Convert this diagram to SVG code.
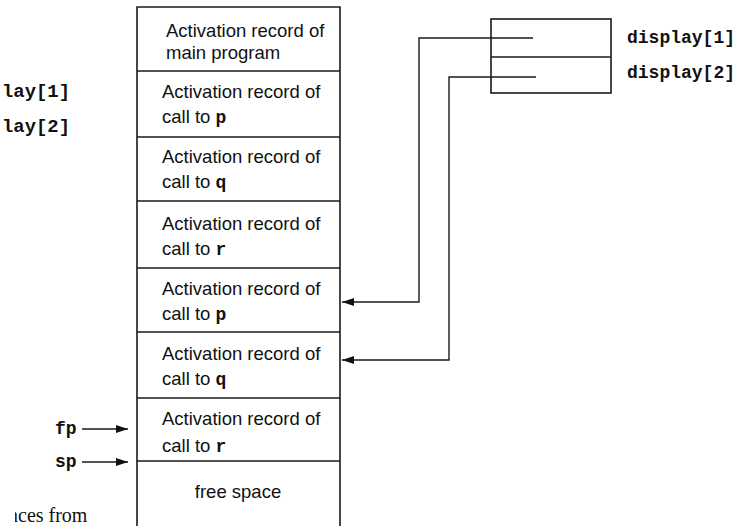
<svg xmlns="http://www.w3.org/2000/svg" width="737" height="526" viewBox="0 0 737 526">
  <defs>
    <marker id="arrow" viewBox="0 0 12 8" refX="12" refY="4" markerWidth="12" markerHeight="8" markerUnits="userSpaceOnUse" orient="auto">
      <path d="M0,0 L12,4 L0,8 Z" fill="#111"/>
    </marker>
    <clipPath id="leftClip">
      <rect x="15" y="490" width="200" height="36"/>
    </clipPath>
  </defs>
  <style>
    .box { fill: none; stroke: #1a1a1a; stroke-width: 1.6; }
    .line { fill: none; stroke: #1a1a1a; stroke-width: 1.4; }
    .txt { font-family: "Liberation Sans", Arial, sans-serif; font-size: 18.5px; fill: #111; }
    .mono { font-family: "Liberation Mono", "Courier New", monospace; font-weight: bold; font-size: 18px; fill: #111; }
    .serif { font-family: "Liberation Serif", "Times New Roman", serif; font-size: 20px; fill: #111; }
  </style>
  <rect width="737" height="526" fill="#fff"/>

  <!-- run-time stack: outer walls, open at the bottom -->
  <g id="stack">
    <path class="box" d="M137,526 V7 H340 V526"/>
  </g>

  <g id="ar-main">
    <line class="box" x1="137" y1="71" x2="340" y2="71"/>
    <text class="txt" x="166" y="37">Activation record of</text>
    <text class="txt" x="166" y="59">main program</text>
  </g>
  <g id="ar-p1">
    <line class="box" x1="137" y1="137" x2="340" y2="137"/>
    <text class="txt" x="162" y="98">Activation record of</text>
    <text class="txt" x="162" y="123">call to <tspan class="mono">p</tspan></text>
  </g>
  <g id="ar-q1">
    <line class="box" x1="137" y1="201" x2="340" y2="201"/>
    <text class="txt" x="162" y="163">Activation record of</text>
    <text class="txt" x="162" y="188">call to <tspan class="mono">q</tspan></text>
  </g>
  <g id="ar-r1">
    <line class="box" x1="137" y1="268" x2="340" y2="268"/>
    <text class="txt" x="162" y="230">Activation record of</text>
    <text class="txt" x="162" y="255">call to <tspan class="mono">r</tspan></text>
  </g>
  <g id="ar-p2">
    <line class="box" x1="137" y1="332" x2="340" y2="332"/>
    <text class="txt" x="162" y="295">Activation record of</text>
    <text class="txt" x="162" y="320">call to <tspan class="mono">p</tspan></text>
  </g>
  <g id="ar-q2">
    <line class="box" x1="137" y1="398" x2="340" y2="398"/>
    <text class="txt" x="162" y="360">Activation record of</text>
    <text class="txt" x="162" y="385">call to <tspan class="mono">q</tspan></text>
  </g>
  <g id="ar-r2">
    <line class="box" x1="137" y1="461" x2="340" y2="461"/>
    <text class="txt" x="162" y="425">Activation record of</text>
    <text class="txt" x="162" y="452">call to <tspan class="mono">r</tspan></text>
  </g>
  <g id="free-space">
    <text class="txt" x="238" y="498" text-anchor="middle">free space</text>
  </g>

  <!-- display array -->
  <g id="display">
    <rect class="box" x="491" y="19" width="120" height="74"/>
    <line class="box" x1="491" y1="57" x2="611" y2="57"/>
    <text class="mono" x="627" y="43" textLength="108" lengthAdjust="spacingAndGlyphs">display[1]</text>
    <text class="mono" x="627" y="78" textLength="108" lengthAdjust="spacingAndGlyphs">display[2]</text>
  </g>

  <!-- labels at the left edge -->
  <g id="left-labels">
    <text class="mono" x="2" y="97" textLength="68" lengthAdjust="spacingAndGlyphs">lay[1]</text>
    <text class="mono" x="2" y="132" textLength="68" lengthAdjust="spacingAndGlyphs">lay[2]</text>
    <text class="mono" x="55" y="434">fp</text>
    <text class="mono" x="55" y="467">sp</text>
    <text class="serif" x="8" y="522" clip-path="url(#leftClip)">nces from</text>
  </g>

  <!-- pointers -->
  <g id="connectors">
    <polyline class="line" points="533,38 419,38 419,302 342,302" marker-end="url(#arrow)"/>
    <polyline class="line" points="536,77 449,77 449,360 342,360" marker-end="url(#arrow)"/>
    <line class="line" x1="82" y1="429" x2="128" y2="429" marker-end="url(#arrow)"/>
    <line class="line" x1="82" y1="462" x2="128" y2="462" marker-end="url(#arrow)"/>
  </g>
</svg>
